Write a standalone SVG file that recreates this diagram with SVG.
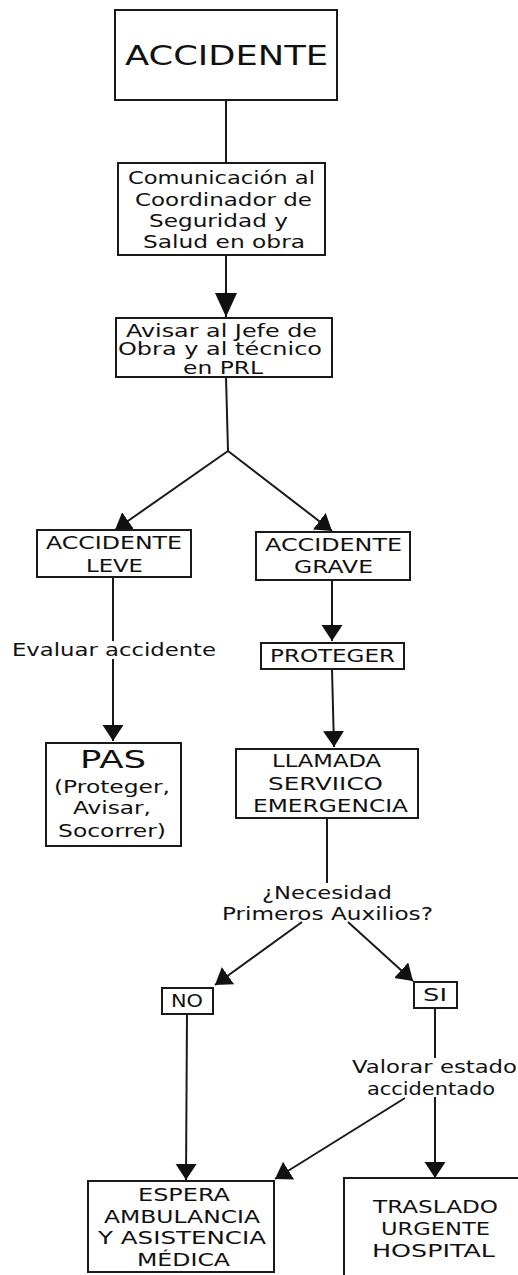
<svg xmlns="http://www.w3.org/2000/svg" width="518" height="1275" viewBox="0 0 518 1275">
<style>
.box{fill:#fff;stroke:#1a1a1a;stroke-width:2}
.t{font-family:"DejaVu Sans","Verdana",sans-serif;font-size:17px;fill:#111}
.big{font-size:27px}
.pas{font-size:25px}
.m{font-size:18px}
.c{fill:none;stroke:#1a1a1a;stroke-width:2}
.a{marker-end:url(#ah)}
.ab{marker-end:url(#ahb)}
</style>
<defs>
<marker id="ah" markerUnits="userSpaceOnUse" markerWidth="17" markerHeight="22" refX="16" refY="10.5" orient="auto">
<path d="M0,0 L16,10.5 L0,21 z" fill="#111"/>
</marker>
<marker id="ahb" markerUnits="userSpaceOnUse" markerWidth="25" markerHeight="23" refX="24" refY="11" orient="auto">
<path d="M0,0 L24,11 L0,22 z" fill="#111"/>
</marker>
</defs>
<rect width="518" height="1275" fill="#fff"/>

<g id="connectors">
<line class="c" x1="226" y1="101" x2="226" y2="163"/>
<line class="c ab" x1="226" y1="255" x2="226" y2="317"/>
<line class="c" x1="226" y1="377" x2="228" y2="451"/>
<line class="c a" x1="228" y1="451" x2="115" y2="530"/>
<line class="c a" x1="228" y1="451" x2="332" y2="531"/>
<line class="c" x1="113" y1="577" x2="113" y2="641"/>
<line class="c a" x1="113" y1="659" x2="113" y2="741"/>
<line class="c a" x1="332" y1="580" x2="332" y2="641"/>
<line class="c a" x1="332" y1="669" x2="334" y2="747"/>
<line class="c" x1="327" y1="818" x2="327" y2="883"/>
<line class="c a" x1="302" y1="922" x2="215" y2="985"/>
<line class="c a" x1="348" y1="922" x2="413" y2="981"/>
<line class="c a" x1="187" y1="1014" x2="186" y2="1180"/>
<line class="c" x1="435" y1="1008" x2="435" y2="1058"/>
<line class="c a" x1="435" y1="1097" x2="435" y2="1178"/>
<line class="c a" x1="405" y1="1098" x2="275" y2="1179"/>
</g>

<g id="accidente">
<rect class="box" x="115" y="10" width="222" height="90"/>
<text class="t big" x="125" y="65" textLength="203" lengthAdjust="spacingAndGlyphs">ACCIDENTE</text>
</g>

<g id="comunicacion">
<rect class="box" x="118" y="163" width="207" height="92"/>
<text class="t" x="128" y="184" textLength="187" lengthAdjust="spacingAndGlyphs">Comunicación al</text>
<text class="t" x="135" y="206" textLength="177" lengthAdjust="spacingAndGlyphs">Coordinador de</text>
<text class="t" x="149" y="227" textLength="139" lengthAdjust="spacingAndGlyphs">Seguridad y</text>
<text class="t" x="143" y="248" textLength="162" lengthAdjust="spacingAndGlyphs">Salud en obra</text>
</g>

<g id="avisar">
<rect class="box" x="116" y="318" width="216" height="59"/>
<text class="t" x="126" y="337" textLength="191" lengthAdjust="spacingAndGlyphs">Avisar al Jefe de</text>
<text class="t" x="118" y="355" textLength="204" lengthAdjust="spacingAndGlyphs">Obra y al técnico</text>
<text class="t" x="183" y="374" textLength="80" lengthAdjust="spacingAndGlyphs">en PRL</text>
</g>

<g id="leve">
<rect class="box" x="37" y="530" width="154" height="47"/>
<text class="t m" x="46" y="549" textLength="136" lengthAdjust="spacingAndGlyphs">ACCIDENTE</text>
<text class="t m" x="86" y="572" textLength="57" lengthAdjust="spacingAndGlyphs">LEVE</text>
</g>

<g id="grave">
<rect class="box" x="256" y="532" width="154" height="48"/>
<text class="t m" x="265" y="551" textLength="137" lengthAdjust="spacingAndGlyphs">ACCIDENTE</text>
<text class="t m" x="294" y="573" textLength="79" lengthAdjust="spacingAndGlyphs">GRAVE</text>
</g>

<g id="evaluar">
<text class="t m" x="12" y="656" textLength="204" lengthAdjust="spacingAndGlyphs">Evaluar accidente</text>
</g>

<g id="proteger">
<rect class="box" x="261" y="643" width="143" height="26"/>
<text class="t" x="270" y="662" textLength="125" lengthAdjust="spacingAndGlyphs">PROTEGER</text>
</g>

<g id="pas">
<rect class="box" x="46" y="743" width="135" height="103"/>
<text class="t pas" x="80" y="768" textLength="66" lengthAdjust="spacingAndGlyphs">PAS</text>
<text class="t" x="54" y="793" textLength="116" lengthAdjust="spacingAndGlyphs">(Proteger,</text>
<text class="t" x="73" y="814" textLength="78" lengthAdjust="spacingAndGlyphs">Avisar,</text>
<text class="t" x="58" y="837" textLength="108" lengthAdjust="spacingAndGlyphs">Socorrer)</text>
</g>

<g id="llamada">
<rect class="box" x="236" y="749" width="182" height="69"/>
<text class="t" x="272" y="767" textLength="109" lengthAdjust="spacingAndGlyphs">LLAMADA</text>
<text class="t" x="268" y="790" textLength="115" lengthAdjust="spacingAndGlyphs">SERVIICO</text>
<text class="t" x="253" y="812" textLength="155" lengthAdjust="spacingAndGlyphs">EMERGENCIA</text>
</g>

<g id="necesidad">
<text class="t" x="262" y="899" textLength="130" lengthAdjust="spacingAndGlyphs">¿Necesidad</text>
<text class="t" x="222" y="920" textLength="211" lengthAdjust="spacingAndGlyphs">Primeros Auxilios?</text>
</g>

<g id="no">
<rect class="box" x="162" y="988" width="51" height="26"/>
<text class="t" x="171" y="1007" textLength="32" lengthAdjust="spacingAndGlyphs">NO</text>
</g>

<g id="si">
<rect class="box" x="414" y="982" width="43" height="26"/>
<text class="t" x="423" y="1001" textLength="24" lengthAdjust="spacingAndGlyphs">SI</text>
</g>

<g id="valorar">
<text class="t" x="352" y="1073" textLength="165" lengthAdjust="spacingAndGlyphs">Valorar estado</text>
<text class="t" x="367" y="1095" textLength="128" lengthAdjust="spacingAndGlyphs">accidentado</text>
</g>

<g id="espera">
<rect class="box" x="88" y="1181" width="186" height="91"/>
<text class="t" x="138" y="1201" textLength="92" lengthAdjust="spacingAndGlyphs">ESPERA</text>
<text class="t" x="104" y="1223" textLength="156" lengthAdjust="spacingAndGlyphs">AMBULANCIA</text>
<text class="t" x="98" y="1244" textLength="168" lengthAdjust="spacingAndGlyphs">Y ASISTENCIA</text>
<text class="t" x="137" y="1266" textLength="93" lengthAdjust="spacingAndGlyphs">MÉDICA</text>
</g>

<g id="traslado">
<rect class="box" x="344" y="1178" width="200" height="120"/>
<text class="t" x="373" y="1213" textLength="125" lengthAdjust="spacingAndGlyphs">TRASLADO</text>
<text class="t" x="381" y="1235" textLength="109" lengthAdjust="spacingAndGlyphs">URGENTE</text>
<text class="t" x="372" y="1257" textLength="123" lengthAdjust="spacingAndGlyphs">HOSPITAL</text>
</g>
</svg>
